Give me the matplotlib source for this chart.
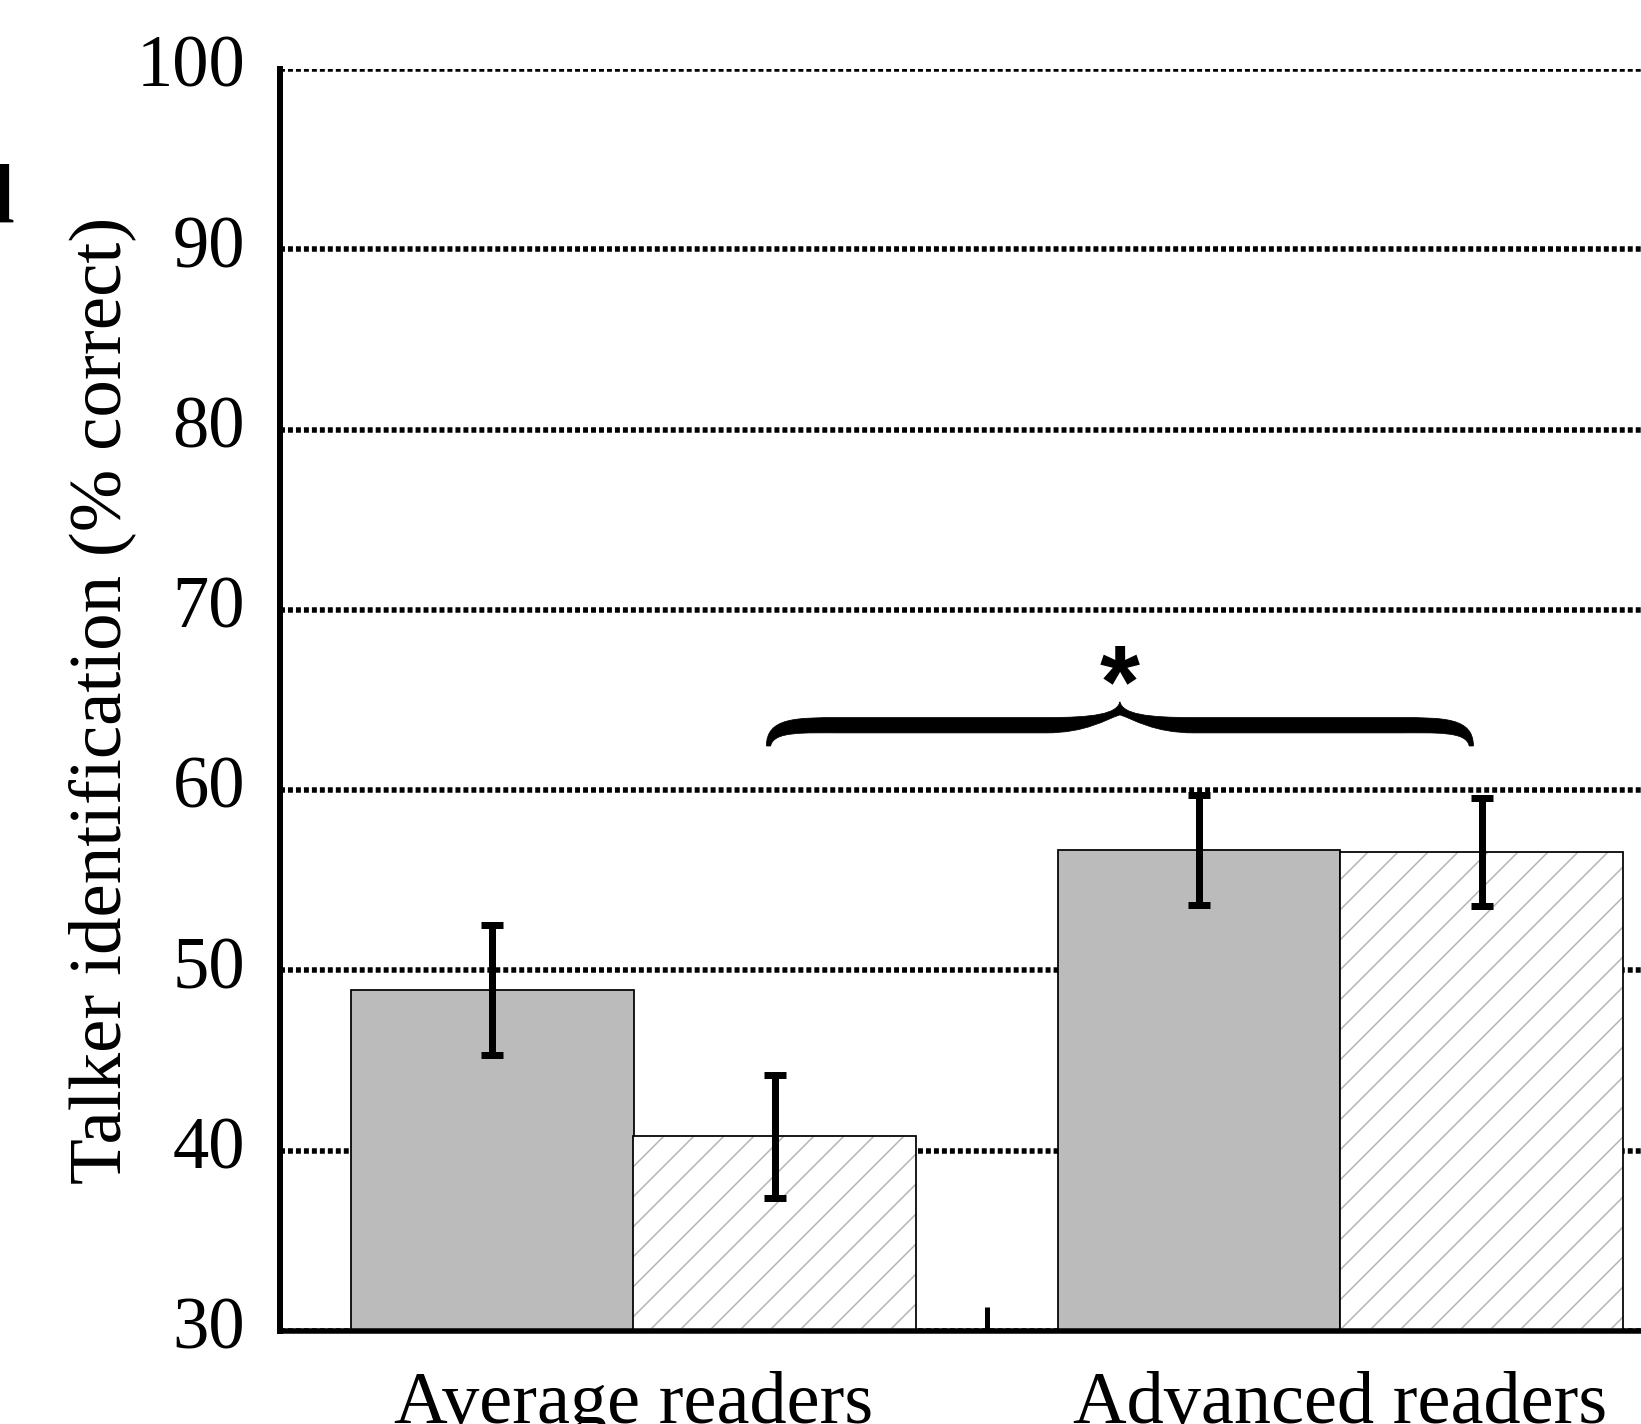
import matplotlib
matplotlib.use('Agg')
import matplotlib.pyplot as plt
import matplotlib.transforms as mtransforms
import numpy as np
from matplotlib.path import Path
from matplotlib.patches import PathPatch

plt.rcParams['font.family'] = ['Liberation Serif', 'DejaVu Serif']
plt.rcParams['hatch.linewidth'] = 0.6
plt.rcParams['hatch.color'] = '#b4b4b4'

# Talker identification scores per reader group
groups = ['Average readers', 'Advanced readers']
solid_means = [48.9, 56.7]
solid_err = [3.6, 3.05]
hatched_means = [40.8, 56.55]
hatched_err = [3.4, 3.0]
y_ticks = [30, 40, 50, 60, 70, 80, 90, 100]

BAR_W = 0.4
BRACE_Y = 62.45
BRACE_SHIFT = -0.012
STAR_Y = 65.5


def draw_brace(ax, x0, x1, y0):
    """Filled curly brace opening downward between x0 and x1."""
    xm = (x0 + x1) / 2
    c = 0.105          # curl length (x units)
    yb = y0 + 1.15     # band centre
    t = 0.85           # band thickness
    yt = y0 + 2.45     # tip
    top, bot = yb + t / 2, yb - t / 2
    verts = [
        (x0, y0),
        (x0, top), (x0 + c * 0.4, top), (x0 + c, top),
        (xm - c, top),
        (xm - c * 0.35, top), (xm - 0.004, top + 0.2), (xm, yt),
        (xm + 0.004, top + 0.2), (xm + c * 0.35, top), (xm + c, top),
        (x1 - c, top),
        (x1 - c * 0.4, top), (x1, top), (x1, y0),
        (x1 - 0.006, y0),
        (x1 - 0.01, bot + 0.1), (x1 - c * 0.5, bot), (x1 - c, bot),
        (xm + c, bot),
        (xm + c * 0.45, bot), (xm + 0.02, top - 0.1), (xm, top + 0.15),
        (xm - 0.02, top - 0.1), (xm - c * 0.45, bot), (xm - c, bot),
        (x0 + c, bot),
        (x0 + c * 0.5, bot), (x0 + 0.01, bot + 0.1), (x0 + 0.006, y0),
        (x0, y0),
    ]
    codes = [Path.MOVETO,
             Path.CURVE4, Path.CURVE4, Path.CURVE4,
             Path.LINETO,
             Path.CURVE4, Path.CURVE4, Path.CURVE4,
             Path.CURVE4, Path.CURVE4, Path.CURVE4,
             Path.LINETO,
             Path.CURVE4, Path.CURVE4, Path.CURVE4,
             Path.LINETO,
             Path.CURVE4, Path.CURVE4, Path.CURVE4,
             Path.LINETO,
             Path.CURVE4, Path.CURVE4, Path.CURVE4,
             Path.CURVE4, Path.CURVE4, Path.CURVE4,
             Path.LINETO,
             Path.CURVE4, Path.CURVE4, Path.CURVE4,
             Path.CLOSEPOLY]
    ax.add_patch(PathPatch(Path(verts, codes), facecolor='black',
                           edgecolor='black', lw=0.3, zorder=5))
    return xm


fig = plt.figure(figsize=(1641 / 180, 1424 / 180), dpi=180)
ax = fig.add_axes([280 / 1641, 93 / 1424, 1414 / 1641, 1262 / 1424])

x = np.arange(len(groups)) + 0.5
x_solid = x - BAR_W / 2
x_hatch = x + BAR_W / 2

ax.bar(x_solid, solid_means, BAR_W, color='#bbbbbb', edgecolor='black',
       lw=0.7, zorder=2)
ax.bar(x_hatch, hatched_means, BAR_W, color='white', edgecolor='#b4b4b4',
       hatch='//', lw=0, zorder=2)
ax.bar(x_hatch, hatched_means, BAR_W, fill=False, edgecolor='black',
       lw=0.7, zorder=3)

ax.errorbar(x_solid, solid_means, yerr=solid_err, fmt='none', ecolor='black',
            elinewidth=2.8, capsize=4.4, capthick=2.8, zorder=4)
ax.errorbar(x_hatch, hatched_means, yerr=hatched_err, fmt='none',
            ecolor='black', elinewidth=2.8, capsize=4.4, capthick=2.8,
            zorder=4)

# significance brace between the two hatched bars
xm = draw_brace(ax, x_hatch[0] + BRACE_SHIFT, x_hatch[1] + BRACE_SHIFT, BRACE_Y)
ax.text(xm, STAR_Y, '*', ha='center', va='center', fontsize=41,
        weight='bold', family='Liberation Sans', zorder=5)

ax.set_xlim(0, 2)
ax.set_ylim(30, 100)
ax.set_yticks(y_ticks)
ax.tick_params(axis='y', length=0, pad=14, labelsize=29)
ax.yaxis.grid(True, color='black', lw=2.2, linestyle=(0, (0.9, 0.55)))
ax.set_axisbelow(True)

# lift the y tick labels slightly above their gridlines
lift = mtransforms.ScaledTranslation(0, 8 / 180, fig.dpi_scale_trans)
for lab in ax.get_yticklabels():
    lab.set_transform(lab.get_transform() + lift)

ax.set_xticks([1])
ax.set_xticklabels([''])
ax.set_xticks(x, minor=True)
ax.set_xticklabels(groups, minor=True)
ax.tick_params(axis='x', which='major', direction='in', length=9.6, width=2)
ax.tick_params(axis='x', which='minor', length=0, pad=16, labelsize=29.7)

for side in ['top', 'right']:
    ax.spines[side].set_visible(False)
ax.spines['left'].set_linewidth(2.4)
ax.spines['bottom'].set_linewidth(2.2)

ax.set_ylabel('Talker identification (% correct)', fontsize=30)
ax.yaxis.set_label_coords(-0.102, 0.5)

fig.text(14 / 1641, 1 - 223 / 1424, 'd', ha='right', va='baseline',
         fontsize=34, weight='bold')

fig.savefig('out.png', dpi=180)
